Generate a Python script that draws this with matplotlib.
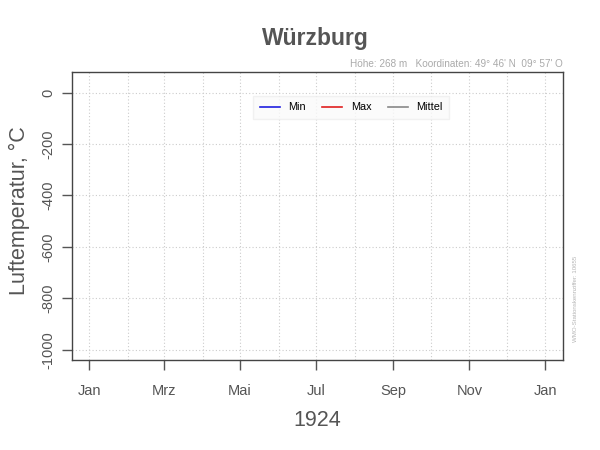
import datetime as dt
import matplotlib
matplotlib.use("Agg")
import matplotlib.pyplot as plt
import matplotlib.dates as mdates

plt.rcParams['font.family'] = ['Liberation Sans', 'DejaVu Sans']

# Daten (Jahr 1924 ohne Messwerte)
station = "Würzburg"
jahr = 1924
hoehe = "Höhe: 268 m   Koordinaten: 49° 46' N  09° 57' O"
wmo = "WMO-Stationskennziffer: 10655"
datum = []
t_min = []
t_max = []
t_mittel = []
y_ticks = [0, -200, -400, -600, -800, -1000]
monat_labels = ["Jan", "Mrz", "Mai", "Jul", "Sep", "Nov", "Jan"]

grau = "#555555"
hellgrau = "#aaaaaa"

fig = plt.figure(figsize=(6, 4.5), dpi=100)
ax = fig.add_axes([0.1195, 0.2, 0.8185, 0.64])

ax.plot(datum, t_min, color="#2020e0", lw=1.2, label="Min")
ax.plot(datum, t_max, color="#e02020", lw=1.2, label="Max")
ax.plot(datum, t_mittel, color="#888888", lw=1.2, label="Mittel")

start = dt.date(jahr, 1, 1)
ende = dt.date(jahr + 1, 1, 1)
ax.set_xlim(start - dt.timedelta(days=14.7), ende + dt.timedelta(days=14.7))
ax.set_ylim(-1040, 80)

# Gitter: jeder Monat, Ticks alle zwei Monate
monate = [dt.date(jahr, m, 1) for m in range(1, 13)] + [ende]
for m in monate:
    ax.axvline(mdates.date2num(m), color="#cccccc", lw=0.8, ls=(0, (1, 2)), zorder=0)
for y in y_ticks:
    ax.axhline(y, color="#cccccc", lw=0.8, ls=(0, (1, 2)), zorder=0)

ax.set_xticks([mdates.date2num(m) for m in monate[::2]])
ax.set_xticklabels(monat_labels)
ax.set_yticks(y_ticks)
ax.set_yticklabels([str(v) for v in y_ticks], rotation=90, va="center")
ax.tick_params(axis="both", colors=grau, labelsize=10.5, length=7, width=1)
ax.tick_params(axis="x", pad=10)
ax.tick_params(axis="y", pad=5)
for s in ax.spines.values():
    s.set_color("#444444")
    s.set_linewidth(1)

ax.set_xlabel(str(jahr), fontsize=15.5, color=grau, labelpad=9)
ax.set_ylabel("Luftemperatur, °C", fontsize=15.5, color=grau)
ax.yaxis.set_label_coords(-0.085, 0.52)

fig.text(0.525, 0.915, station, fontsize=16.5, fontweight="bold", color=grau,
         ha="center", va="center")
ax.text(1.0, 1.01, hoehe, transform=ax.transAxes, fontsize=7.2, color=hellgrau,
        ha="right", va="bottom")
fig.text(0.959, 0.335, wmo, fontsize=4.4, color="#b5b5b5", rotation=90,
         ha="center", va="center")

leg = ax.legend(loc="upper center", bbox_to_anchor=(0.569, 0.917), ncol=3,
                fontsize=7.8, frameon=True, handlelength=1.85, handletextpad=0.8,
                columnspacing=1.5, borderpad=0.6, borderaxespad=0, fancybox=False)
leg.get_frame().set_facecolor("#fafafa")
leg.get_frame().set_edgecolor("#eeeeee")

fig.savefig("out.png", dpi=100)
